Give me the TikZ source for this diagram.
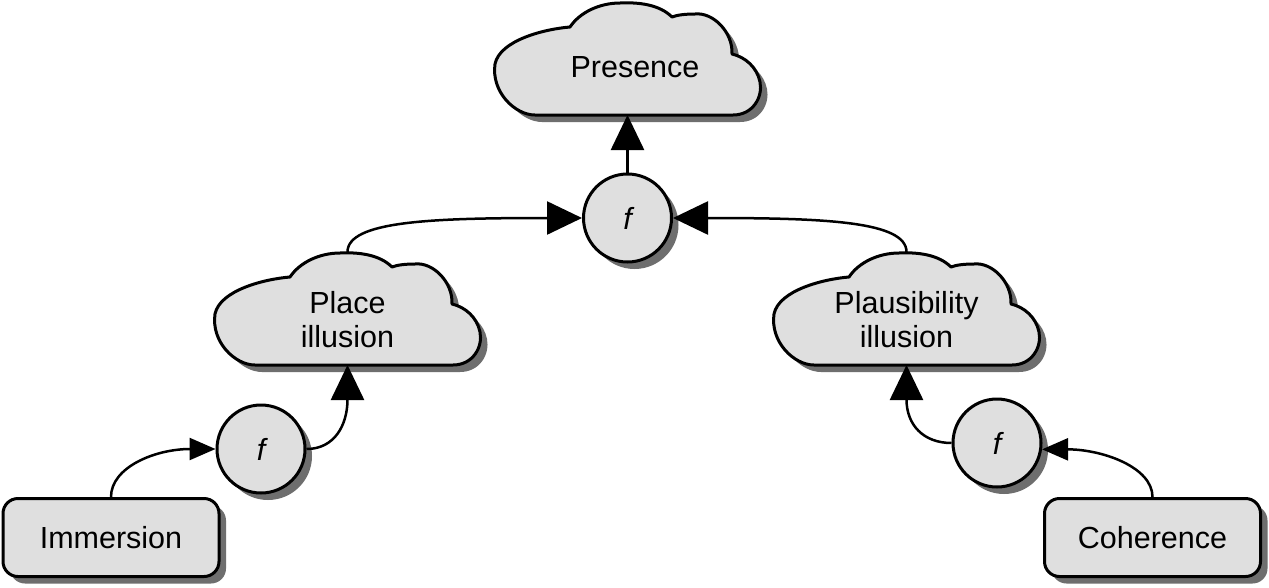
\documentclass[tikz,border=0pt]{standalone}
\usepackage{fontspec}
\setmainfont{Liberation Sans}
\usetikzlibrary{arrows.meta,shadows}
\definecolor{boxfill}{HTML}{DFDFDF}
\definecolor{shadowgray}{HTML}{6E6E6E}
\tikzset{
  every node/.style={font=\fontsize{30.5}{34}\selectfont},
  myshadow/.style={drop shadow={shadow xshift=7pt,shadow yshift=-7pt,fill=shadowgray,opacity=1}},
  fnode/.style={circle,draw=black,line width=3pt,fill=boxfill,minimum size=88pt,inner sep=0pt,myshadow},
  rectnode/.style={rectangle,rounded corners=15pt,draw=black,line width=3pt,fill=boxfill,minimum width=216pt,minimum height=78pt,inner sep=0pt,myshadow},
  cloudnode/.style={rectangle,minimum width=265pt,minimum height=113pt,inner sep=0pt,outer sep=0pt},
  cloudtext/.style={align=center,font=\fontsize{30.5}{34}\selectfont},
  cloudline/.style={draw=black,line width=3pt,fill=boxfill,line join=round},
  conn/.style={line width=2.5pt},
  bigarrow/.style={conn,-{Triangle[length=35pt,width=33pt]}},
  smallarrow/.style={conn,-{Triangle[length=26pt,width=22pt]}},
  cloudpic/.pic={
    \fill[shadowgray,shift={(7,7)}] (40,113) -- (238,113) .. controls (258,113) and (268,95) .. (265,80) .. controls (262,65) and (250,55) .. (237,52) .. controls (238,30) and (218,10) .. (200,12) .. controls (190,12) and (182,13) .. (177,15) .. controls (165,3) and (145,0) .. (125,1) .. controls (105,1) and (85,10) .. (75,25) .. controls (50,27) and (5,38) .. (0,62) .. controls (-4,90) and (20,113) .. (40,113) -- cycle;
    \path[cloudline] (40,113) -- (238,113) .. controls (258,113) and (268,95) .. (265,80) .. controls (262,65) and (250,55) .. (237,52) .. controls (238,30) and (218,10) .. (200,12) .. controls (190,12) and (182,13) .. (177,15) .. controls (165,3) and (145,0) .. (125,1) .. controls (105,1) and (85,10) .. (75,25) .. controls (50,27) and (5,38) .. (0,62) .. controls (-4,90) and (20,113) .. (40,113) -- cycle;
  }
}
\begin{document}
\begin{tikzpicture}[x=1pt,y=-1pt]
\useasboundingbox[fill=white] (0,0) rectangle (1269,587);
% clouds
\pic at (495,2) {cloudpic};
\pic at (215,252) {cloudpic};
\pic at (774,252) {cloudpic};
\node[cloudnode,label={[cloudtext,xshift=7.5,yshift=-8.5]center:Presence}] (presence) at (627.5,58.5) {};
\node[cloudnode,label={[cloudtext,yshift=-11]center:Place\\illusion}] (place) at (347.5,308.5) {};
\node[cloudnode,label={[cloudtext,yshift=-11]center:Plausibility\\illusion}] (plaus) at (906.5,308.5) {};
% function nodes
\node[fnode] (topf) at (627.5,218) {\itshape f};
\node[fnode] (leftf) at (261,449) {\itshape f};
\node[fnode] (rightf) at (997,443) {\itshape f};
% boxes
\node[rectnode] (immersion) at (111,537.5) {Immersion};
\node[rectnode] (coherence) at (1152.5,537.5) {Coherence};
% connectors
\draw[bigarrow] (topf.north) -- (presence.south);
\draw[bigarrow] (place.north) .. controls +(0,-31) and +(-150,0) .. (topf.west);
\draw[bigarrow] (plaus.north) .. controls +(0,-31) and +(150,0) .. (topf.east);
\draw[smallarrow] (immersion.north) .. controls +(0,-30) and +(-60,0) .. (leftf.west);
\draw[bigarrow] (leftf.east) .. controls +(28,0) and +(0,60) .. (place.south);
\draw[smallarrow] (coherence.north) .. controls +(0,-30) and +(60,0) .. (rightf.-8);
\draw[bigarrow] (rightf.west) .. controls +(-28,0) and +(0,60) .. (plaus.south);
\end{tikzpicture}
\end{document}
